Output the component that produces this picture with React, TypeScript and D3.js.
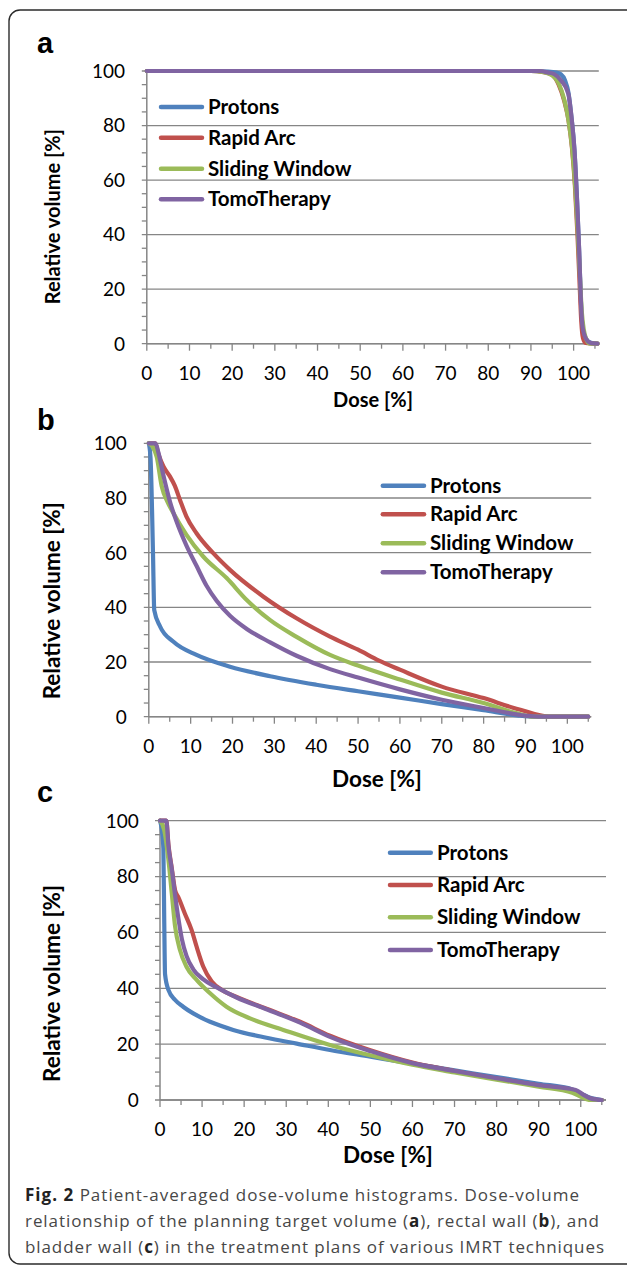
import React from 'react';
import * as d3 from 'd3';

type Pt = [number, number];

const seriesNames = ['Protons', 'Rapid Arc', 'Sliding Window', 'TomoTherapy'];
const seriesColors = ['#4F81BD', '#C0504D', '#9BBB59', '#8064A2'];

const xTickLabels = [0, 10, 20, 30, 40, 50, 60, 70, 80, 90, 100];
const xMinorTicks = [5, 15, 25, 35, 45, 55, 65, 75, 85, 95, 105];
const yTickLabels = [0, 20, 40, 60, 80, 100];
const yMinorTicks = [5, 10, 15, 25, 30, 35, 45, 50, 55, 65, 70, 75, 85, 90, 95];

// Panel a: planning target volume
const protonsA: Pt[] = [[0, 100], [90, 100], [94, 99.8], [96, 99.4], [97, 98.8], [98, 96.5], [98.8, 92], [99.5, 83], [100.2, 71], [100.8, 53], [101.3, 34], [101.7, 16], [102.1, 6], [102.9, 1.8], [104.1, 0.3], [105.6, 0]];
const rapidArcA: Pt[] = [[0, 100], [90, 100], [93, 99.6], [95, 98.5], [96.5, 95], [97.8, 89], [98.8, 82], [99.6, 72], [100.3, 58], [100.9, 40], [101.4, 22], [101.8, 8], [102.2, 2], [102.8, 0.3], [105.6, 0]];
const slidingWindowA: Pt[] = [[0, 100], [90, 100], [93, 99.6], [95, 98.4], [96.5, 95.5], [97.8, 89.5], [98.8, 82], [99.7, 71], [100.4, 57], [101, 40], [101.5, 24], [101.9, 12], [102.4, 5], [103, 1.5], [103.7, 0], [105.6, 0]];
const tomoTherapyA: Pt[] = [[0, 100], [92, 100], [93.9, 99.5], [95.5, 98.8], [97, 96.6], [98.75, 91.7], [99.5, 83.1], [100.2, 70.9], [100.8, 52.6], [101.3, 34.2], [101.7, 15.9], [102.1, 6.1], [102.9, 1.8], [104.1, 0.2], [105.6, 0]];

// Panel b: rectal wall
const protonsB: Pt[] = [[0, 100], [0.4, 95], [1.0, 60], [1.3, 39], [2.7, 33], [5.9, 27.4], [11.4, 22.6], [19.4, 18.3], [29, 14.8], [40, 11.7], [50, 9.3], [60, 7], [70, 4.6], [80, 2.4], [88, 0.5], [92, 0], [105, 0]];
const rapidArcB: Pt[] = [[0, 100], [1.5, 100], [2.3, 96], [3.5, 91.5], [5.0, 88], [6.2, 84.5], [7.45, 79.3], [9, 73.2], [11.4, 67.1], [15.4, 59.8], [19.4, 53.7], [27.4, 43.9], [35.3, 36], [43.3, 29.3], [50, 24.5], [55, 20.5], [60, 17.2], [70, 11], [80, 6.8], [87, 3.3], [90, 2], [93, 0.7], [96, 0], [105, 0]];
const slidingWindowB: Pt[] = [[0, 100], [0.8, 99], [1.9, 95], [3.1, 84.2], [4.5, 78.5], [5.9, 74.4], [9, 66.5], [13, 58.6], [18.6, 50.7], [23.4, 42.7], [29, 35.3], [35.3, 29.2], [43.3, 22.6], [50, 18.7], [60, 13.6], [70, 8.8], [80, 5], [88, 1.2], [92, 0], [105, 0]];
const tomoTherapyB: Pt[] = [[0, 100], [1.6, 100], [2.3, 96.6], [3.5, 88.2], [5.1, 78.4], [6.7, 71.1], [9, 62.6], [11.4, 55.2], [13.8, 47.9], [16.2, 42.4], [19.4, 36.9], [23.4, 32.1], [29, 27.2], [35.3, 22.3], [43.3, 17.4], [50, 14.3], [60, 10], [70, 6.2], [80, 3.2], [90, 0.4], [93, 0], [105, 0]];

// Panel c: bladder wall
const protonsC: Pt[] = [[0, 100], [0.4, 97], [0.8, 90], [1.0, 65], [1.2, 45], [2, 39.4], [3.6, 35.8], [5.5, 33.4], [7.9, 31], [11.9, 28], [17.4, 25.1], [25.3, 22.3], [32.5, 20.2], [40.4, 17.9], [50, 15.5], [60, 13], [70, 10.6], [80, 8.2], [90, 5.8], [98, 3.8], [100, 2.3], [102.7, 0.6], [105, 0]];
const rapidArcC: Pt[] = [[0, 100], [1.5, 100], [2, 91.5], [2.8, 83], [3.6, 75], [4.4, 72.5], [5.9, 66.8], [7.5, 60.9], [8.7, 54.9], [10.3, 47.7], [12.3, 42.4], [14.7, 39.4], [18.2, 36.9], [25.3, 32.7], [33.3, 28], [40.4, 23], [50, 17.8], [60, 13.4], [70, 10.4], [80, 7.7], [90, 5.2], [98, 3.3], [100.5, 1.8], [102.5, 0.4], [104, 0], [105, 0]];
const slidingWindowC: Pt[] = [[0, 100], [1, 96.7], [2, 86], [2.8, 74], [3.6, 62], [4.75, 53.7], [6.3, 47.7], [8.7, 43], [11.9, 38.2], [15.8, 33.4], [21.4, 29.2], [29.3, 25.1], [40.4, 19.7], [50, 16], [60, 12.6], [70, 9.9], [80, 7.3], [90, 4.8], [98, 2.6], [101, 0.5], [102.5, 0], [105, 0]];
const tomoTherapyC: Pt[] = [[0, 100], [1.5, 100], [2, 91], [2.8, 82.6], [3.6, 73.1], [4.4, 64.7], [5.2, 57.6], [6.3, 51.6], [7.9, 46.8], [10.3, 43.2], [13.5, 40.3], [18.2, 36.7], [25.3, 32.5], [33.3, 27.7], [40.4, 22.6], [50, 17.5], [60, 13.2], [70, 10.4], [80, 7.8], [90, 5.3], [98.8, 3.6], [100.5, 2], [102.5, 0.5], [105, 0]];

const panelLetters = ['a', 'b', 'c'];
const xTitle = 'Dose [%]';
const yTitle = 'Relative volume [%]';

const FONT = "Lato, 'Open Sans', sans-serif";
const GRID = '#868686';

interface Layout {
  x0: number; x1: number; xMax: number; yTop: number; yBottom: number;
  yLabelRight: number; xLabelBase: number; xTitleX: number; xTitleY: number;
  yTitleX: number; yTitleY: number; titleSize: number;
  legX1: number; legX2: number; legTextX: number; legY: number[];
  letterX: number; letterY: number;
}

const layouts: Layout[] = [
  { x0: 146.8, x1: 598.8, xMax: 105.9, yTop: 71, yBottom: 343.7, yLabelRight: 125, xLabelBase: 380,
    xTitleX: 373, xTitleY: 407, yTitleX: 60, yTitleY: 216.7, titleSize: 20,
    legX1: 159, legX2: 204, legTextX: 208, legY: [107, 137.7, 168.7, 199.3], letterX: 37, letterY: 53 },
  { x0: 148.8, x1: 591.2, xMax: 105.7, yTop: 443.3, yBottom: 716.7, yLabelRight: 126.8, xLabelBase: 752.7,
    xTitleX: 377, xTitleY: 786.7, yTitleX: 60, yTitleY: 600.8, titleSize: 22.5,
    legX1: 380.8, legX2: 426, legTextX: 430, legY: [485.7, 514.3, 543.3, 572.3], letterX: 37, letterY: 430 },
  { x0: 160, x1: 606, xMax: 106, yTop: 820.7, yBottom: 1100, yLabelRight: 138.8, xLabelBase: 1136,
    xTitleX: 388, xTitleY: 1163.3, yTitleX: 60, yTitleY: 983.5, titleSize: 22.5,
    legX1: 388, legX2: 432.8, legTextX: 437, legY: [852.7, 885, 917.3, 950], letterX: 37, letterY: 802 },
];

const panelSeries: Pt[][][] = [
  [protonsA, rapidArcA, slidingWindowA, tomoTherapyA],
  [protonsB, rapidArcB, slidingWindowB, tomoTherapyB],
  [protonsC, rapidArcC, slidingWindowC, tomoTherapyC],
];

function Panel({ L, series, letter }: { L: Layout; series: Pt[][]; letter: string }) {
  const x = d3.scaleLinear().domain([0, L.xMax]).range([L.x0, L.x1]);
  const y = d3.scaleLinear().domain([0, 100]).range([L.yBottom, L.yTop]);
  const line = d3.line<Pt>().x(d => x(d[0])).y(d => y(d[1])).curve(d3.curveMonotoneX);
  return (
    <g>
      <text x={L.letterX} y={L.letterY} fontFamily="'Liberation Sans', Arial, sans-serif" fontWeight="bold" fontSize={29} fill="#000">{letter}</text>
      {yTickLabels.map(v => (
        <g key={'gy' + v}>
          <line x1={L.x0 - 5} x2={L.x1} y1={y(v)} y2={y(v)} stroke={GRID} strokeWidth={1.3} />
          <text x={L.yLabelRight} y={y(v)} dy="0.36em" textAnchor="end" fontFamily={FONT} fontSize={19} fill="#000">{v}</text>
        </g>
      ))}
      {yMinorTicks.map(v => (
        <line key={'my' + v} x1={L.x0 - 5} x2={L.x0} y1={y(v)} y2={y(v)} stroke={GRID} strokeWidth={1.3} />
      ))}
      <line x1={L.x0} x2={L.x0} y1={L.yTop} y2={L.yBottom} stroke={GRID} strokeWidth={1.5} />
      <line x1={L.x0} x2={L.x1} y1={L.yBottom} y2={L.yBottom} stroke={GRID} strokeWidth={1.5} />
      {xTickLabels.map(v => (
        <g key={'gx' + v}>
          <line x1={x(v)} x2={x(v)} y1={L.yBottom} y2={L.yBottom + 7} stroke={GRID} strokeWidth={1.3} />
          <text x={x(v)} y={L.xLabelBase} textAnchor="middle" fontFamily={FONT} fontSize={19} fill="#000">{v}</text>
        </g>
      ))}
      {xMinorTicks.map(v => (
        <line key={'mx' + v} x1={x(v)} x2={x(v)} y1={L.yBottom} y2={L.yBottom + 5} stroke={GRID} strokeWidth={1.3} />
      ))}
      {series.map((s, i) => (
        <path key={'s' + i} d={line(s) || ''} fill="none" stroke={seriesColors[i]} strokeWidth={4.2}
          strokeLinejoin="round" strokeLinecap="round" />
      ))}
      {seriesNames.map((n, i) => (
        <g key={'lg' + i}>
          <line x1={L.legX1 + 2} x2={L.legX2 - 2} y1={L.legY[i]} y2={L.legY[i]} stroke={seriesColors[i]} strokeWidth={4.5} strokeLinecap="round" />
          <text x={L.legTextX} y={L.legY[i]} dy="0.35em" fontFamily={FONT} fontWeight="bold" fontSize={20.5} fill="#000">{n}</text>
        </g>
      ))}
      <text x={L.xTitleX} y={L.xTitleY} textAnchor="middle" fontFamily={FONT} fontWeight="bold" fontSize={L.titleSize} fill="#000">{xTitle}</text>
      <text transform={`translate(${L.yTitleX},${L.yTitleY}) rotate(-90)`} textAnchor="middle" fontFamily={FONT} fontWeight="bold" fontSize={L.titleSize} fill="#000">{yTitle}</text>
    </g>
  );
}

export default function App() {
  const capFont = "'Open Sans', 'Noto Sans', sans-serif";
  return (
    <svg width={627} height={1265} style={{ position: 'absolute', left: 0, top: 0, background: '#fff' }}>
      <rect x={0} y={0} width={627} height={1265} fill="#fff" />
      <rect x={9} y={10} width={660} height={1254} rx={11} ry={11} fill="none" stroke="#2b2b2b" strokeWidth={1.4} />
      {layouts.map((L, i) => (
        <Panel key={i} L={L} series={panelSeries[i]} letter={panelLetters[i]} />
      ))}
      <g fontFamily={capFont} fontSize={17} fill="#474747">
        <text x={25} y={1200.7} textLength={554} lengthAdjust="spacing">
          <tspan fontWeight="bold" fill="#222">Fig. 2</tspan> Patient-averaged dose-volume histograms. Dose-volume
        </text>
        <text x={25} y={1226.7} textLength={574} lengthAdjust="spacing">
          relationship of the planning target volume (<tspan fontWeight="bold" fill="#222">a</tspan>), rectal wall (<tspan fontWeight="bold" fill="#222">b</tspan>), and
        </text>
        <text x={25} y={1252.7} textLength={579} lengthAdjust="spacing">
          bladder wall (<tspan fontWeight="bold" fill="#222">c</tspan>) in the treatment plans of various IMRT techniques
        </text>
      </g>
    </svg>
  );
}
